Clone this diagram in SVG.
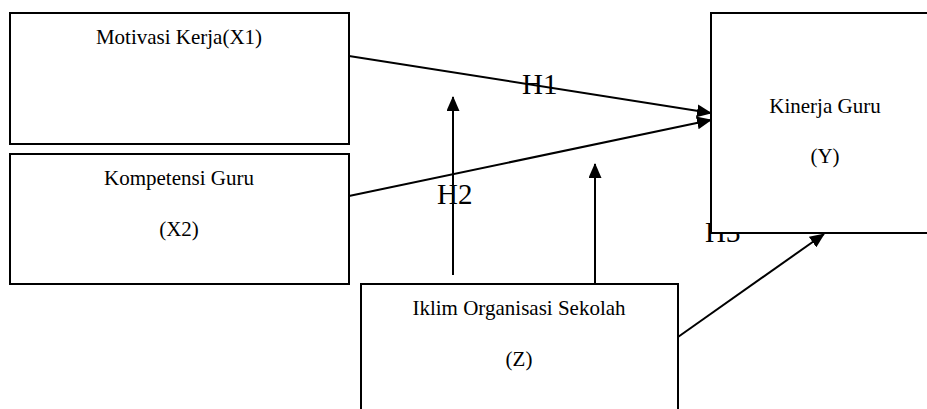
<svg xmlns="http://www.w3.org/2000/svg" width="927" height="409" viewBox="0 0 927 409">
<defs>
<style>
.box{fill:#fff;stroke:#000;stroke-width:2}
.t{font-family:"Liberation Serif","Times New Roman",serif;font-size:21px;fill:#000;text-anchor:middle}
.h{font-family:"Liberation Serif","Times New Roman",serif;font-size:29px;fill:#000}
.c{stroke:#000;stroke-width:2;fill:none;marker-end:url(#ah)}
</style>
<marker id="ah" markerUnits="userSpaceOnUse" markerWidth="15" markerHeight="13" refX="14" refY="6.5" orient="auto">
<path d="M0,0 L15,6.5 L0,13 z" fill="#000"/>
</marker>
</defs>
<rect width="927" height="409" fill="#fff"/>
<text class="h" x="705" y="242">H3</text>
<g id="node-x1">
<rect class="box" x="10" y="13" width="339" height="131"/>
<text class="t" x="179" y="44">Motivasi Kerja(X1)</text>
</g>
<g id="node-x2">
<rect class="box" x="10" y="154" width="339" height="130"/>
<text class="t" x="179" y="185">Kompetensi Guru</text>
<text class="t" x="179" y="236">(X2)</text>
</g>
<g id="node-y">
<rect class="box" x="711" y="13" width="230" height="220"/>
<text class="t" x="825" y="113">Kinerja Guru</text>
<text class="t" x="825" y="163">(Y)</text>
</g>
<g id="node-z">
<rect class="box" x="361" y="284" width="317" height="140"/>
<text class="t" x="519" y="315">Iklim Organisasi Sekolah</text>
<text class="t" x="519" y="366">(Z)</text>
</g>
<g id="connectors">
<line class="c" x1="349" y1="56" x2="711" y2="113"/>
<line class="c" x1="349" y1="196" x2="711" y2="120"/>
<line class="c" x1="453" y1="275" x2="453" y2="97"/>
<line class="c" x1="595" y1="284" x2="595" y2="164"/>
<line class="c" x1="678" y1="337" x2="824" y2="234"/>
</g>
<text class="h" x="522" y="94">H1</text>
<text class="h" x="437" y="204">H2</text>
</svg>
